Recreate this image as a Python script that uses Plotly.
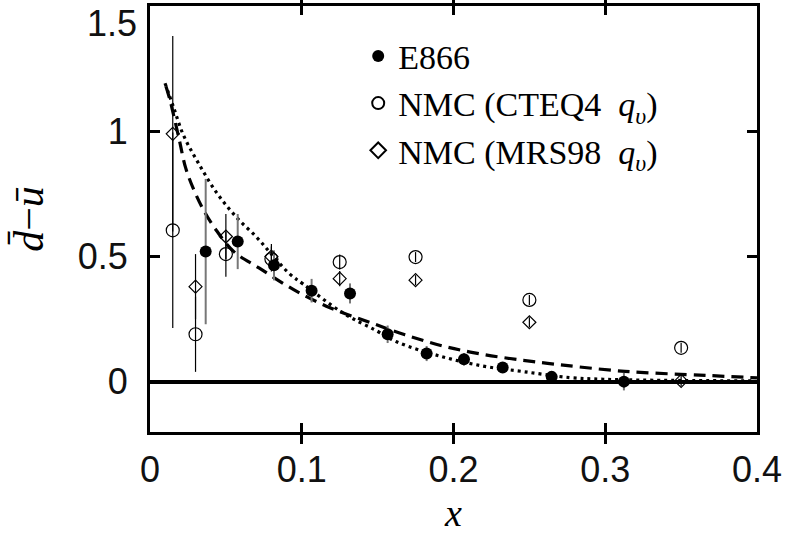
import plotly.graph_objects as go

# E866 data
e866_x = [0.0367, 0.0578, 0.0817, 0.1065, 0.1318, 0.1566, 0.1823, 0.2069, 0.2324, 0.2647, 0.3123]
e866_y = [0.52, 0.56, 0.465, 0.364, 0.353, 0.19, 0.113, 0.09, 0.057, 0.02, 0.001]
e866_err = [0.29, 0.11, 0.06, 0.047, 0.04, 0.035, 0.03, 0.025, 0.02, 0.015, 0.035]

# NMC data (two valence-quark parameterisations)
nmc_x = [0.015, 0.030, 0.050, 0.080, 0.125, 0.175, 0.25, 0.35]
nmc_cteq_y = [0.605, 0.19, 0.51, 0.49, 0.478, 0.498, 0.327, 0.136]
nmc_cteq_err = [0.39, 0.15, 0.09, 0.05, 0.03, 0.02, 0.02, 0.02]
nmc_mrs_y = [0.99, 0.38, 0.58, 0.50, 0.412, 0.406, 0.238, 0.004]
nmc_mrs_err = [0.39, 0.13, 0.09, 0.05, 0.03, 0.02, 0.02, 0.02]

# model curves
dash_x = [0.0105, 0.0132, 0.0193, 0.0235, 0.0297, 0.0362, 0.0439, 0.0556, 0.0718, 0.0944,
          0.1186, 0.1432, 0.168, 0.1944, 0.22, 0.246, 0.262, 0.313, 0.366, 0.40]
dash_y = [1.18, 1.124, 0.966, 0.854, 0.755, 0.676, 0.603, 0.518, 0.455, 0.369,
          0.296, 0.241, 0.188, 0.141, 0.109, 0.086, 0.074, 0.042, 0.026, 0.016]
dot_x = [0.0099, 0.0154, 0.022, 0.0318, 0.0439, 0.0571, 0.0703, 0.08, 0.0922, 0.101,
         0.1274, 0.149, 0.1625, 0.191, 0.2196, 0.246, 0.2768, 0.2987, 0.3317, 0.3975]
dot_y = [1.192, 1.098, 0.985, 0.874, 0.755, 0.656, 0.577, 0.51, 0.43, 0.39,
         0.274, 0.205, 0.16, 0.103, 0.063, 0.041, 0.017, 0.0105, 0.0066, 0.004]

x_ticks = [0, 0.1, 0.2, 0.3, 0.4]
x_ticktext = ["0", "0.1", "0.2", "0.3", "0.4"]
y_ticks = [0, 0.5, 1, 1.5]
y_ticktext = ["0", "0.5", "1", ""]
y_top_tick = [1.5]
y_top_ticktext = ["1.5"]

Y_RANGE = [-0.2, 1.5]
TOP_LABEL_DROP = 0.07  # the top label sits slightly below its tick in the reference

TICKFONT = dict(family="Liberation Sans", size=36, color="#111")
SERIF = "Liberation Serif"

fig = go.Figure()

fig.add_trace(go.Scatter(x=dash_x, y=dash_y, mode="lines", showlegend=False,
                         line=dict(color="black", width=3.2, dash="12px,7px", shape="spline")))
fig.add_trace(go.Scatter(x=dot_x, y=dot_y, mode="lines", showlegend=False,
                         line=dict(color="black", width=3.2, dash="3px,4px", shape="spline")))

fig.add_trace(go.Scatter(
    x=e866_x, y=e866_y, mode="markers", name="E866",
    marker=dict(symbol="circle", size=12, color="black"),
    error_y=dict(type="data", array=e866_err, color="#777777", thickness=2, width=0)))
fig.add_trace(go.Scatter(
    x=nmc_x, y=nmc_cteq_y, mode="markers", name="NMC (CTEQ4  <i>q</i><sub><i>υ</i></sub>)",
    marker=dict(symbol="circle-open", size=13, color="black", line=dict(width=1.2, color="black")),
    error_y=dict(type="data", array=nmc_cteq_err, color="black", thickness=1.2, width=0)))
fig.add_trace(go.Scatter(
    x=nmc_x, y=nmc_mrs_y, mode="markers", name="NMC (MRS98  <i>q</i><sub><i>υ</i></sub>)",
    marker=dict(symbol="diamond-open", size=10, color="black", line=dict(width=1.2, color="black")),
    error_y=dict(type="data", array=nmc_mrs_err, color="black", thickness=1.2, width=0)))

# empty trace so the label-only overlay axis is drawn
fig.add_trace(go.Scatter(x=[None], y=[None], yaxis="y2", mode="markers",
                         showlegend=False, hoverinfo="skip"))

fig.update_layout(
    width=786, height=542,
    margin=dict(l=150, r=29, t=3, b=110),
    paper_bgcolor="white", plot_bgcolor="white",
    xaxis=dict(range=[0, 0.4], tickvals=x_ticks, ticktext=x_ticktext,
               ticks="inside", ticklen=9, tickwidth=3, tickcolor="black",
               showline=True, linewidth=3, linecolor="black", mirror="allticks",
               showgrid=False, zeroline=False, tickfont=TICKFONT, ticklabelstandoff=4,
               title=dict(text="<i>x</i>", font=dict(family=SERIF, size=38, color="black"), standoff=11)),
    yaxis=dict(range=Y_RANGE, tickvals=y_ticks, ticktext=y_ticktext,
               ticks="inside", ticklen=10, tickwidth=3, tickcolor="black",
               showline=True, linewidth=3, linecolor="black", mirror="allticks",
               showgrid=False, zeroline=True, zerolinecolor="black", zerolinewidth=3.5,
               tickfont=TICKFONT, ticklabelstandoff=12,
               title=dict(text="<i>d\u0304</i>\u2212<i>u\u0304</i>",
                          font=dict(family=SERIF, size=42, color="black"), standoff=22)),
    yaxis2=dict(range=[Y_RANGE[0] + TOP_LABEL_DROP, Y_RANGE[1] + TOP_LABEL_DROP],
                overlaying="y", anchor="x", side="left",
                tickvals=y_top_tick, ticktext=y_top_ticktext,
                ticks="", showline=False, showgrid=False, zeroline=False,
                tickfont=TICKFONT, ticklabelstandoff=12),
    legend=dict(x=0.343, y=0.95, xanchor="left", yanchor="top", bgcolor="rgba(0,0,0,0)",
                borderwidth=0, itemsizing="constant",
                font=dict(family=SERIF, size=34, color="black")),
)

fig.write_html("out.html")
